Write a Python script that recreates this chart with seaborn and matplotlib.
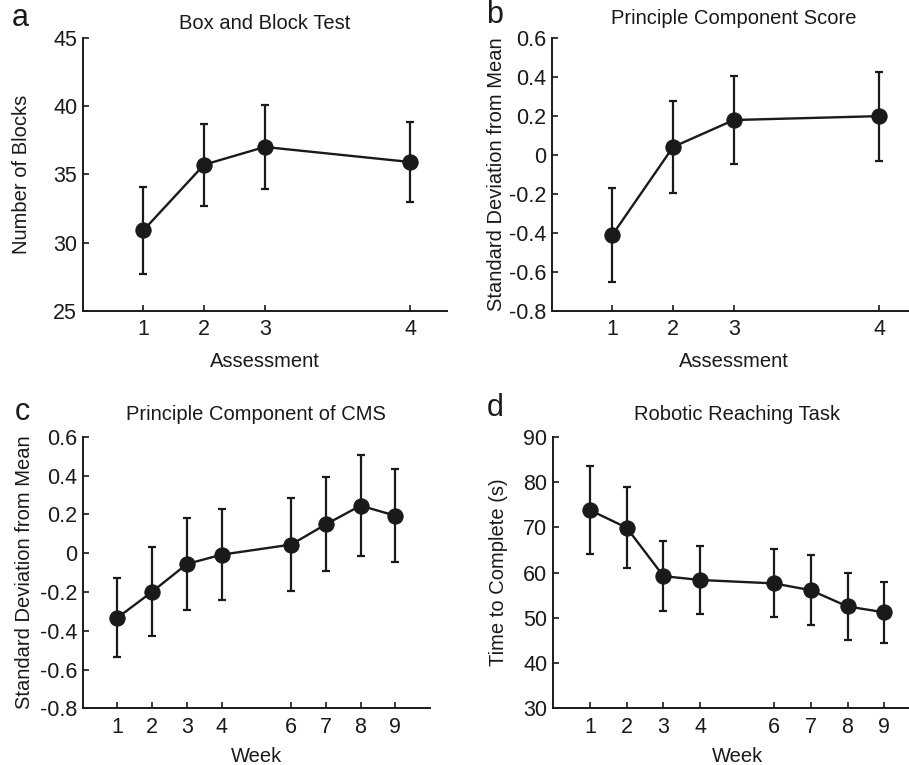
import pandas as pd
import seaborn as sns
import matplotlib.pyplot as plt

# panel a: Box and Block Test
assess_pos = [1, 2, 3, 5.4]
assess_labels = ["1", "2", "3", "4"]
bbt_mean = [30.9, 35.7, 37.0, 35.9]
bbt_err = [3.2, 3.0, 3.1, 2.9]

# panel b: principle component score
pcs_mean = [-0.41, 0.04, 0.178, 0.198]
pcs_err = [0.24, 0.235, 0.225, 0.228]

# panel c: principle component of CMS
weeks = [1, 2, 3, 4, 6, 7, 8, 9]
cms_mean = [-0.333, -0.199, -0.056, -0.008, 0.044, 0.148, 0.245, 0.193]
cms_err = [0.205, 0.23, 0.235, 0.233, 0.238, 0.242, 0.26, 0.24]

# panel d: robotic reaching task
reach_mean = [73.8, 69.9, 59.2, 58.35, 57.6, 56.1, 52.5, 51.2]
reach_err = [9.7, 8.9, 7.7, 7.5, 7.5, 7.75, 7.4, 6.8]

sd_ticks = [-0.8, -0.6, -0.4, -0.2, 0, 0.2, 0.4, 0.6]
sd_labels = ["-0.8", "-0.6", "-0.4", "-0.2", "0", "0.2", "0.4", "0.6"]

sns.set_style("ticks")
plt.rcParams["font.family"] = ["Liberation Sans", "DejaVu Sans"]
plt.rcParams["font.size"] = 14

fig = plt.figure(figsize=(9.09, 7.65), dpi=100)
ink = "#1a1a1a"

panels = [
    # letter, rect, x, y, err, xlim, ticks, ticklabels, ylim, yticks, yticklabels,
    # title, xlabel, ylabel, title pad, letter pos, ylabel x, xlabel pad
    ("a", [0.091, 0.5935, 0.4004, 0.3573], assess_pos, bbt_mean, bbt_err, (0, 6),
     assess_pos, assess_labels, (25, 45), [25, 30, 35, 40, 45], None,
     "Box and Block Test", "Assessment", "Number of Blocks", 6, (-0.172, 1.072), -0.142, 8.5),
    ("b", [0.607, 0.5935, 0.4004, 0.3573], assess_pos, pcs_mean, pcs_err, (0, 6),
     assess_pos, assess_labels, (-0.8, 0.6), sd_ticks, sd_labels,
     "Principle Component Score", "Assessment", "Standard Deviation from Mean", 10,
     (-0.158, 1.082), -0.126, 8.5),
    ("c", [0.091, 0.0741, 0.382, 0.355], weeks, cms_mean, cms_err, (0, 10),
     weeks, [str(w) for w in weeks], (-0.8, 0.6), sd_ticks, sd_labels,
     "Principle Component of CMS", "Week", "Standard Deviation from Mean", 12,
     (-0.175, 1.091), -0.141, 7),
    ("d", [0.6084, 0.0741, 0.405, 0.355], weeks, reach_mean, reach_err, (0, 10),
     weeks, [str(w) for w in weeks], (30, 90), [30, 40, 50, 60, 70, 80, 90], None,
     "Robotic Reaching Task", "Week", "Time to Complete (s)", 12, (-0.158, 1.106), -0.123, 7),
]

for (letter, rect, x, y, err, xlim, xt, xtl, ylim, yt, ytl,
     title, xlabel, ylabel, tpad, lpos, ylx, xlpad) in panels:
    ax = fig.add_axes(rect)
    df = pd.DataFrame({"x": x, "y": y, "err": err})
    ax.errorbar(df["x"], df["y"], yerr=df["err"], fmt="none", ecolor=ink,
                elinewidth=1.6, capsize=3, capthick=1.6, zorder=2)
    sns.lineplot(data=df, x="x", y="y", ax=ax, color=ink, linewidth=1.7,
                 marker="o", markersize=11, markeredgecolor=ink,
                 markerfacecolor=ink, zorder=3)
    ax.set_xlim(*xlim)
    ax.set_ylim(*ylim)
    ax.set_xticks(xt)
    ax.set_xticklabels(xtl)
    ax.set_yticks(yt)
    if ytl is not None:
        ax.set_yticklabels(ytl)
    ax.tick_params(direction="in", length=4, width=1.2, labelsize=15.5, colors=ink)
    ax.tick_params(axis="x", pad=6)
    ax.tick_params(axis="y", pad=4)
    for s in ["top", "right"]:
        ax.spines[s].set_visible(False)
    for s in ["left", "bottom"]:
        ax.spines[s].set_linewidth(1.4)
        ax.spines[s].set_color(ink)
    ax.set_title(title, fontsize=14.5, pad=tpad, color=ink)
    ax.set_xlabel(xlabel, fontsize=14.5, labelpad=xlpad, color=ink)
    ax.set_ylabel(ylabel, fontsize=14.5, color=ink)
    ax.yaxis.set_label_coords(ylx, 0.5)
    ax.text(lpos[0], lpos[1], letter, transform=ax.transAxes, fontsize=22,
            ha="center", va="center", color=ink)

fig.savefig("out.png", dpi=100)
